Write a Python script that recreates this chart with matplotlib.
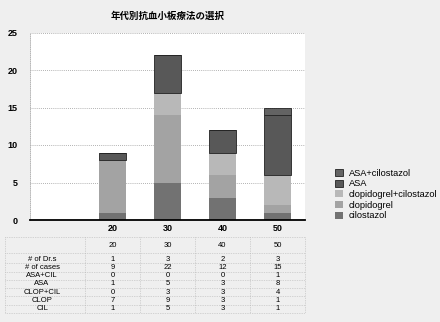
# -*- coding: utf-8 -*-
# antiplatelet therapy by decade of age: stacked bars + data table
import numpy as np
import matplotlib.pyplot as plt

plt.rcParams['font.family'] = ['Liberation Sans', 'DejaVu Sans']

# data
decades = ['20', '30', '40', '50']
n_doctors = [1, 3, 2, 3]
n_cases = [9, 22, 12, 15]
asa_cil = [0, 0, 0, 1]
asa = [1, 5, 3, 8]
clop_cil = [0, 3, 3, 4]
clop = [7, 9, 3, 1]
cil = [1, 5, 3, 1]

# series stacked from the bottom up
series = [
    ('cilostazol', cil, '#727272', 'none'),
    ('clopidogrel', clop, '#a3a3a3', 'none'),
    ('clopidogrel+cilostazol', clop_cil, '#b8b8b8', 'none'),
    ('ASA', asa, '#585858', '#222222'),
    ('ASA+cilostazol', asa_cil, '#636363', '#222222'),
]
table_rows = [('# of Dr.s', n_doctors), ('# of cases', n_cases),
              ('ASA+CIL', asa_cil), ('ASA', asa), ('CLOP+CIL', clop_cil),
              ('CLOP', clop), ('CIL', cil)]

fig = plt.figure(figsize=(4.4, 3.22), dpi=100, facecolor='#efefef')
ax = fig.add_axes([30/440, 102/322, 275/440, 187.5/322])
ax.set_facecolor('white')

x = np.arange(1, len(decades) + 1)
bottom = np.zeros(len(decades))
handles = []
for name, vals, col, ec in series:
    b = ax.bar(x, vals, width=0.5, bottom=bottom, color=col,
               edgecolor=ec, linewidth=0.6, label=name, zorder=2)
    bottom += np.array(vals)
    handles.append(b)

ax.set_xlim(-0.5, 4.5)
ax.set_ylim(0, 25)
ax.set_yticks(range(0, 26, 5))
ax.set_xticks(x)
ax.set_xticklabels(decades)
ax.grid(axis='y', color='#999999', linestyle=(0, (1, 1.5)), linewidth=0.6, zorder=0)
for s in ['top', 'right']:
    ax.spines[s].set_visible(False)
ax.spines['left'].set_linestyle((0, (1, 1.5)))
ax.spines['left'].set_color('#aaaaaa')
ax.spines['left'].set_linewidth(0.6)
ax.spines['bottom'].set_linewidth(1.3)
ax.tick_params(axis='y', length=0, pad=9, labelsize=6.5)
ax.tick_params(axis='x', length=0, pad=3, labelsize=6.5)
for lab in ax.get_xticklabels() + ax.get_yticklabels():
    lab.set_fontweight('bold')

ax.set_title('年代別抗血小板療法の選択', fontsize=6.8, fontweight='bold',
             family=['Noto Sans CJK JP', 'DejaVu Sans'], pad=10)

# legend lists the top of the stack first
fig.legend(handles[::-1], [s[0] for s in series][::-1], loc='upper left',
           bbox_to_anchor=(331/440, 1 - 165/322), frameon=False, fontsize=6.7,
           handlelength=0.85, handleheight=0.8, handletextpad=0.65,
           labelspacing=0.18, borderaxespad=0)

# data table underneath, sharing the category positions
tax = fig.add_axes([30/440, 9/322, 275/440, 76/322], sharex=ax)
tax.set_ylim(8.18, -1.06)
tax.axis('off')
lab_x = -0.28
fs = 5.5
for xi, d in zip(x, decades):
    tax.text(xi, 0, d, ha='center', va='center', fontsize=fs)
for k, (name, vals) in enumerate(table_rows):
    yy = 1.65 + k
    tax.text(lab_x, yy, name, ha='center', va='center', fontsize=fs, clip_on=False)
    for xi, v in zip(x, vals):
        tax.text(xi, yy, str(v), ha='center', va='center', fontsize=fs)

line_kw = dict(color='#b5b5b5', linestyle=(0, (1, 1.5)), linewidth=0.5)
for yy in [-1.0, 0.85] + [2.15 + k for k in range(6)] + [8.15]:
    tax.plot([-0.95, 4.5], [yy, yy], clip_on=False, **line_kw)
for xb in [-0.95, 0.5, 1.5, 2.5, 3.5, 4.5]:
    tax.plot([xb, xb], [-1.0, 8.15], clip_on=False, **line_kw)

plt.savefig('out.png', dpi=100, facecolor=fig.get_facecolor())
